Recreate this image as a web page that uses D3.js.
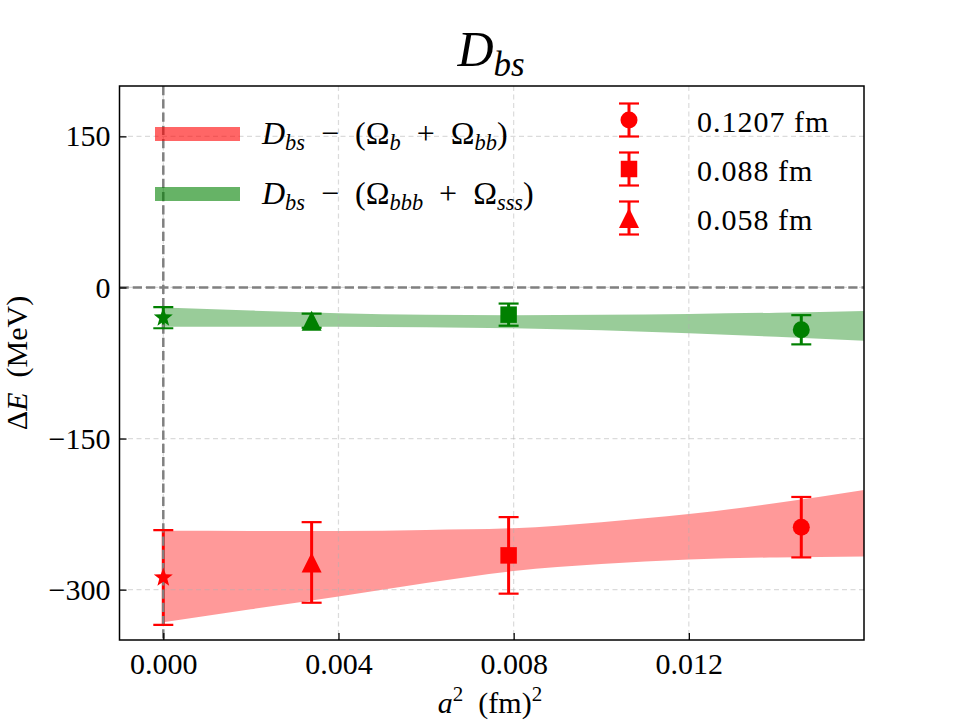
<!DOCTYPE html>
<html>
<head>
<meta charset="utf-8">
<script src="https://cdn.jsdelivr.net/npm/d3@7"></script>
<style>
  body { margin: 0; background: #fff; }
  svg text { font-family: "Liberation Serif", "DejaVu Serif", serif; white-space: pre; }
</style>
</head>
<body>
<svg id="chart" width="960" height="720"></svg>
<script>
// tick values
var xTicks = [0, 0.004, 0.008, 0.012];
var yTicks = [-300, -150, 0, 150];

// lattice spacings and their a^2
var spacingLabels = ['0.1207 fm', '0.088 fm', '0.058 fm'];
var a2 = [0.014568, 0.007885, 0.003387];
var markerTypes = ['circle', 'square', 'triangle'];

// D_bs - (Omega_b + Omega_bb)
var redE = [-238, -266, -273];
var redErr = [30, 38, 40];
// D_bs - (Omega_bbb + Omega_sss)
var greenE = [-42, -27, -33];
var greenErr = [14.5, 11, 7];

// continuum values (a^2 = 0): [red, green]
var contE = [-288, -30];
var contErr = [47, 10.5];

// fit bands
var bandX = [0, 0.002, 0.004, 0.006, 0.008, 0.010, 0.012, 0.014, 0.016];
var redLo = [-332.5, -319.5, -306.8, -293.5, -281.5, -274.6, -270, -268, -267];
var redHi = [-241.5, -241.7, -241.8, -240.8, -239, -233, -225, -214, -201];
var greenLo = [-39, -39, -39, -39.5, -40.5, -42.5, -45.5, -49, -53];
var greenHi = [-20, -23, -25.5, -27, -27.5, -27, -26.3, -25, -23.3];

var RED = '#ff0000', GREEN = '#008000';
var FS = 30;
var margin = { left: 119.5, right: 864, top: 86, bottom: 640 };
var msize = { circle: 17, square: 16.5, triangle: 20, star: 20 };

var svg = d3.select('#chart');
var x = d3.scaleLinear().domain([-0.001, 0.016]).range([margin.left, margin.right]);
var y = d3.scaleLinear().domain([-350, 200]).range([margin.bottom, margin.top]);

svg.append('defs').append('clipPath').attr('id', 'plotclip')
  .append('rect')
  .attr('x', margin.left).attr('y', margin.top)
  .attr('width', margin.right - margin.left).attr('height', margin.bottom - margin.top);

var plot = svg.append('g').attr('clip-path', 'url(#plotclip)');

// marker shapes in matplotlib style
function markerPath(type) {
  var ms = msize[type], h = ms / 2, p = d3.path();
  if (type === 'circle') {
    p.arc(0, 0, h, 0, 2 * Math.PI);
  } else if (type === 'square') {
    p.rect(-h, -h, ms, ms);
  } else if (type === 'triangle') {
    p.moveTo(0, -h); p.lineTo(h, h); p.lineTo(-h, h); p.closePath();
  } else if (type === 'star') {
    for (var i = 0; i < 10; i++) {
      var r = i % 2 ? h * 0.42 : h;
      var ang = -Math.PI / 2 + i * Math.PI / 5;
      if (i === 0) p.moveTo(r * Math.cos(ang), r * Math.sin(ang));
      else p.lineTo(r * Math.cos(ang), r * Math.sin(ang));
    }
    p.closePath();
  }
  return p.toString();
}

// bands
function band(lo, hi) {
  return d3.area()
    .x(function(d, i) { return x(bandX[i]); })
    .y0(function(d, i) { return y(lo[i]); })
    .y1(function(d, i) { return y(hi[i]); })
    .curve(d3.curveMonotoneX)(bandX);
}
plot.append('path').attr('d', band(redLo, redHi)).attr('fill', RED).attr('fill-opacity', 0.4);
plot.append('path').attr('d', band(greenLo, greenHi)).attr('fill', GREEN).attr('fill-opacity', 0.4);

// grid
var grid = plot.append('g').attr('stroke', '#b0b0b0').attr('stroke-opacity', 0.45)
  .attr('stroke-width', 1.2).attr('stroke-dasharray', '5,3.5');
grid.selectAll('line.gx').data(xTicks).enter().append('line')
  .attr('x1', function(d) { return x(d); }).attr('x2', function(d) { return x(d); })
  .attr('y1', margin.top).attr('y2', margin.bottom);
grid.selectAll('line.gy').data(yTicks).enter().append('line')
  .attr('y1', function(d) { return y(d); }).attr('y2', function(d) { return y(d); })
  .attr('x1', margin.left).attr('x2', margin.right);

// points: lattice + continuum
var points = [];
a2.forEach(function(v, i) {
  points.push({ x: v, e: redE[i], err: redErr[i], c: RED, m: markerTypes[i] });
  points.push({ x: v, e: greenE[i], err: greenErr[i], c: GREEN, m: markerTypes[i] });
});
points.push({ x: 0, e: contE[0], err: contErr[0], c: RED, m: 'star' });
points.push({ x: 0, e: contE[1], err: contErr[1], c: GREEN, m: 'star' });

plot.selectAll('line.err').data(points).enter().append('line')
  .attr('x1', function(d) { return x(d.x); }).attr('x2', function(d) { return x(d.x); })
  .attr('y1', function(d) { return y(d.e - d.err); }).attr('y2', function(d) { return y(d.e + d.err); })
  .attr('stroke', function(d) { return d.c; }).attr('stroke-width', 3);

// reference lines
var ref = plot.append('g').attr('stroke', '#808080').attr('stroke-width', 2.5)
  .attr('stroke-dasharray', '9.25,4');
ref.append('line').attr('x1', margin.left).attr('x2', margin.right)
  .attr('y1', y(0)).attr('y2', y(0));
ref.append('line').attr('x1', x(0)).attr('x2', x(0))
  .attr('y1', margin.top).attr('y2', margin.bottom);

// caps
points.forEach(function(d) {
  [d.e - d.err, d.e + d.err].forEach(function(v) {
    plot.append('line')
      .attr('x1', x(d.x) - 10).attr('x2', x(d.x) + 10)
      .attr('y1', y(v)).attr('y2', y(v))
      .attr('stroke', d.c).attr('stroke-width', 2.2);
  });
});

plot.selectAll('path.mk').data(points).enter().append('path')
  .attr('class', 'mk')
  .attr('d', function(d) { return markerPath(d.m); })
  .attr('transform', function(d) { return 'translate(' + x(d.x) + ',' + y(d.e) + ')'; })
  .attr('fill', function(d) { return d.c; });

// axes (ticks point inward)
var xAxis = svg.append('g')
  .attr('transform', 'translate(0,' + margin.bottom + ')')
  .call(d3.axisBottom(x).tickValues(xTicks).tickFormat(d3.format('.3f'))
    .tickSizeInner(-7).tickSizeOuter(0).tickPadding(13));
var yAxis = svg.append('g')
  .attr('transform', 'translate(' + margin.left + ',0)')
  .call(d3.axisLeft(y).tickValues(yTicks).tickFormat(d3.format('d'))
    .tickSizeInner(-7).tickSizeOuter(0).tickPadding(9));
[xAxis, yAxis].forEach(function($a) {
  $a.select('.domain').remove();
  $a.selectAll('line').attr('stroke', '#000').attr('stroke-width', 1.3);
  $a.selectAll('text').attr('font-family', '"Liberation Serif", serif')
    .attr('font-size', FS).attr('fill', '#000');
});
xAxis.selectAll('text').attr('dy', '0.71em');

svg.append('rect')
  .attr('x', margin.left).attr('y', margin.top)
  .attr('width', margin.right - margin.left).attr('height', margin.bottom - margin.top)
  .attr('fill', 'none').attr('stroke', '#000').attr('stroke-width', 1.5);

// labels
function mathText(g, parts, size) {
  var t = g.append('text').attr('font-size', size).attr('fill', '#000');
  parts.forEach(function(p) {
    t.append('tspan')
      .attr('font-style', p.it ? 'italic' : 'normal')
      .attr('font-size', p.sub || p.sup ? size * 0.7 : size)
      .attr('dy', p.dy || 0)
      .text(p.t);
  });
  return t;
}

mathText(svg.append('g').attr('transform', 'translate(491,66)'),
  [{ t: 'D', it: true }, { t: 'bs', it: true, sub: true, dy: 10 }], 50)
  .attr('text-anchor', 'middle');

mathText(svg.append('g').attr('transform', 'translate(490,713)'),
  [{ t: 'a', it: true }, { t: '2', sup: true, dy: -12 }, { t: '  (fm)', dy: 12 }, { t: '2', sup: true, dy: -12 }], FS)
  .attr('text-anchor', 'middle');

mathText(svg.append('g').attr('transform', 'translate(27,363) rotate(-90)'),
  [{ t: 'Δ' }, { t: 'E', it: true }, { t: '  (MeV)' }], FS)
  .attr('text-anchor', 'middle');

// left legend: bands
var bandLegend = [
  { c: RED, y: 134, parts: [{ t: 'D', it: true }, { t: 'bs', it: true, sub: true, dy: 6 },
    { t: '  −  (Ω', dy: -6 }, { t: 'b', it: true, sub: true, dy: 6 }, { t: '  +  Ω', dy: -6 },
    { t: 'bb', it: true, sub: true, dy: 6 }, { t: ')', dy: -6 }] },
  { c: GREEN, y: 194, parts: [{ t: 'D', it: true }, { t: 'bs', it: true, sub: true, dy: 6 },
    { t: '  −  (Ω', dy: -6 }, { t: 'bbb', it: true, sub: true, dy: 6 }, { t: '  +  Ω', dy: -6 },
    { t: 'sss', it: true, sub: true, dy: 6 }, { t: ')', dy: -6 }] }
];
bandLegend.forEach(function(d) {
  svg.append('rect').attr('x', 155).attr('y', d.y - 7).attr('width', 85).attr('height', 14)
    .attr('fill', d.c).attr('fill-opacity', 0.6);
  mathText(svg.append('g').attr('transform', 'translate(262,' + (d.y + 10) + ')'), d.parts, 32);
});

// right legend: lattice spacings
var legRows = [120, 169, 218];
spacingLabels.forEach(function(lbl, i) {
  var g = svg.append('g').attr('transform', 'translate(629,' + legRows[i] + ')');
  g.append('line').attr('y1', -16.5).attr('y2', 16.5).attr('stroke', RED).attr('stroke-width', 3);
  [-16.5, 16.5].forEach(function(v) {
    g.append('line').attr('x1', -10).attr('x2', 10).attr('y1', v).attr('y2', v)
      .attr('stroke', RED).attr('stroke-width', 2.2);
  });
  g.append('path').attr('d', markerPath(markerTypes[i])).attr('fill', RED);
  g.append('text').attr('x', 68).attr('y', 12).attr('font-size', FS)
    .attr('letter-spacing', 1).attr('fill', '#000').text(lbl);
});
</script>
</body>
</html>
